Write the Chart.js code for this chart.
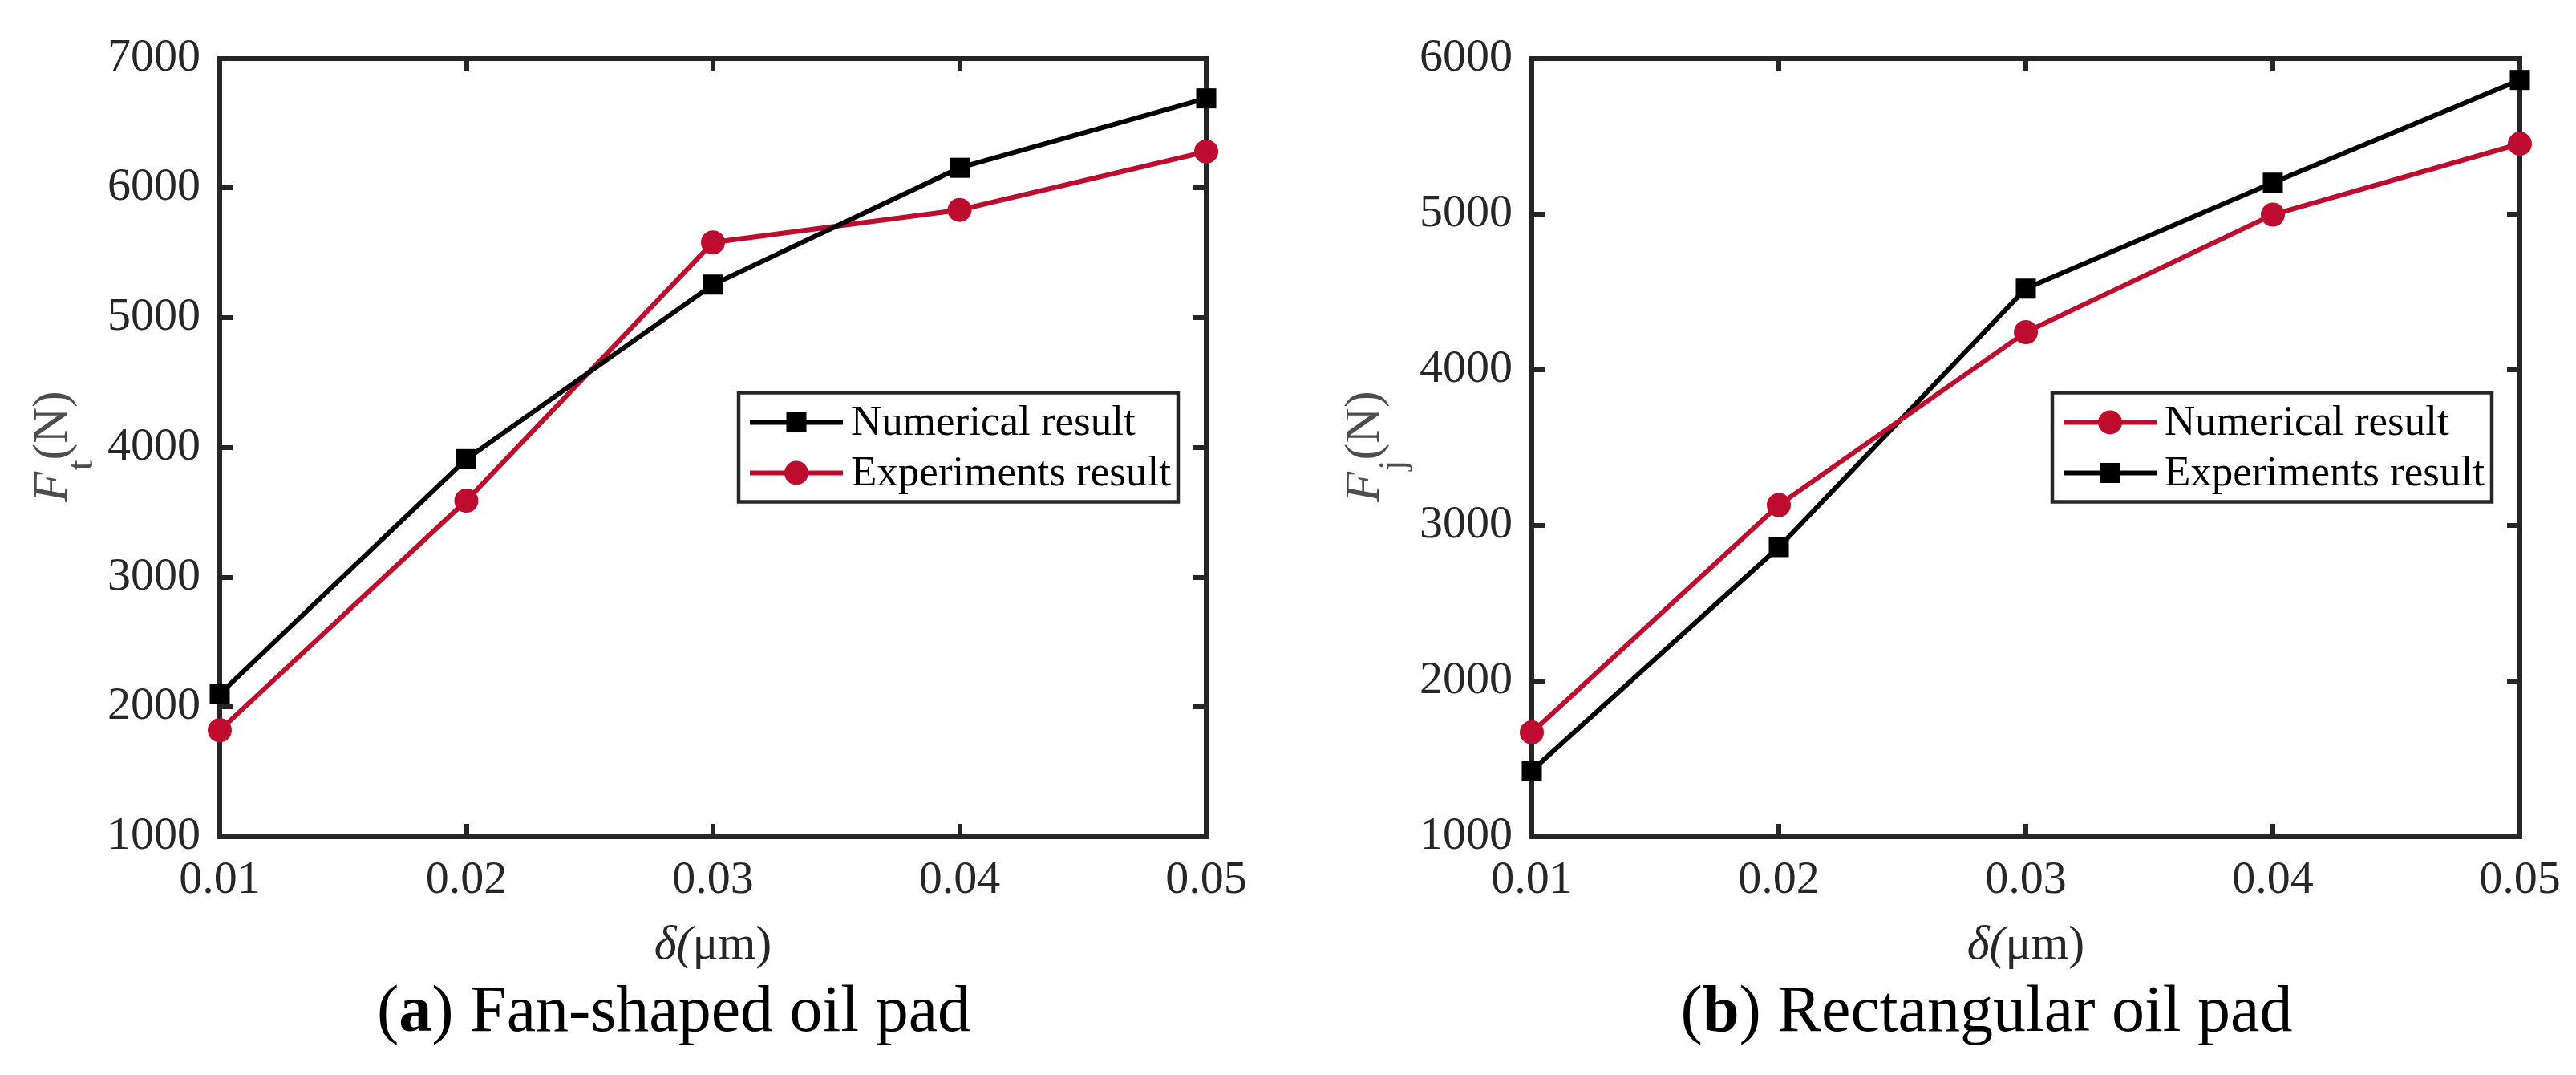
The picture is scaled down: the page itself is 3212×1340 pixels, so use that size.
<!DOCTYPE html>
<html>
<head>
<meta charset="utf-8">
<title>Oil pad force vs film thickness</title>
<script src="https://cdn.jsdelivr.net/npm/chart.js@4.4.0/dist/chart.umd.min.js"></script>
<style>
  html, body { margin: 0; padding: 0; background: #fff; }
  body { width: 3212px; height: 1340px; position: relative; overflow: hidden; font-family: "Liberation Serif", "Times New Roman", serif; }
  canvas { position: absolute; top: 0; }
  .caption { position: absolute; top: 1217px; font-size: 82px; line-height: 82px; color: #000; text-align: center; white-space: nowrap; }
</style>
</head>
<body>
<canvas id="fanChart" width="1600" height="1220" style="left:0"></canvas>
<canvas id="rectChart" width="1576" height="1220" style="left:1636px"></canvas>
<div class="caption" style="left:0;width:1680px">(<b>a</b>) Fan-shaped oil pad</div>
<div class="caption" style="left:1636px;width:1682px">(<b>b</b>) Rectangular oil pad</div>
<script>
// values
const xLabels = ['0.01', '0.02', '0.03', '0.04', '0.05'];

const fanNumerical = [2100, 3910, 5255, 6155, 6690];
const fanExperiments = [1820, 3590, 5580, 5830, 6280];

const rectNumerical = [1670, 3130, 4240, 4995, 5450];
const rectExperiments = [1425, 2860, 4520, 5200, 5860];

const fanYRange = [1000, 7000];
const rectYRange = [1000, 6000];
const yStep = 1000;

const AXIS = '#262626';
const RED = '#BD0C2D';
const BLACK = '#000000';
const FONT = '"Liberation Serif", "Times New Roman", serif';

// draws y title (with subscript), x title and the boxed legend
const panelText = {
    id: 'panelText',
    afterDraw(chart, args, opts) {
        const ctx = chart.ctx;
        const a = chart.chartArea;

        // y title: F_sub(N), rotated
        const fMain = 'italic 62px ' + FONT;
        const fSub = '46px ' + FONT;
        const fNorm = '62px ' + FONT;
        ctx.save();
        ctx.font = fMain; const w1 = ctx.measureText('F').width;
        ctx.font = fSub; const w2 = ctx.measureText(opts.sub).width;
        ctx.font = fNorm; const w3 = ctx.measureText('(N)').width;
        ctx.translate(opts.yTitleX, (a.top + a.bottom) / 2);
        ctx.rotate(-Math.PI / 2);
        ctx.fillStyle = '#4d4d4d';
        ctx.textAlign = 'left';
        ctx.textBaseline = 'alphabetic';
        let x = -(w1 + w2 + w3) / 2;
        ctx.font = fMain; ctx.fillText('F', x, 0); x += w1 + 2;
        ctx.font = fSub; ctx.fillText(opts.sub, x, 32); x += w2;
        ctx.font = fNorm; ctx.fillText('(N)', x, 0);
        ctx.restore();

        // x title: δ(μm)
        ctx.save();
        const xIt = 'italic 60px ' + FONT;
        const xNo = '60px ' + FONT;
        ctx.font = xIt; const d1 = ctx.measureText('δ(').width;
        ctx.font = xNo; const d2 = ctx.measureText('μm)').width;
        let tx = (a.left + a.right) / 2 - (d1 + d2) / 2;
        const ty = a.bottom + 152;
        ctx.fillStyle = AXIS;
        ctx.textBaseline = 'alphabetic';
        ctx.font = xIt; ctx.fillText('δ(', tx, ty); tx += d1;
        ctx.font = xNo; ctx.fillText('μm)', tx, ty);
        ctx.restore();

        // legend box
        const boxW = 548, boxH = 136;
        const bx = a.right - 35 - boxW;
        const by = a.top + 417;
        ctx.save();
        ctx.fillStyle = '#fff';
        ctx.fillRect(bx, by, boxW, boxH);
        ctx.strokeStyle = AXIS;
        ctx.lineWidth = 4.5;
        ctx.strokeRect(bx, by, boxW, boxH);
        chart.data.datasets.forEach((ds, i) => {
            const ry = by + 37 + i * 63;
            ctx.strokeStyle = ds.borderColor;
            ctx.lineWidth = ds.borderWidth;
            ctx.beginPath();
            ctx.moveTo(bx + 14, ry);
            ctx.lineTo(bx + 130, ry);
            ctx.stroke();
            ctx.fillStyle = ds.borderColor;
            const mx = bx + 72;
            if (ds.pointStyle === 'rect') {
                const s = ds.pointRadius * Math.SQRT1_2;
                ctx.fillRect(mx - s, ry - s, 2 * s, 2 * s);
            } else {
                ctx.beginPath();
                ctx.arc(mx, ry, ds.pointRadius, 0, Math.PI * 2);
                ctx.fill();
            }
            ctx.fillStyle = '#000';
            ctx.font = '53px ' + FONT;
            ctx.textBaseline = 'middle';
            ctx.fillText(ds.label, bx + 140, ry + 2);
        });
        ctx.restore();
    }
};

function series(label, values, color, style) {
    return {
        label: label,
        data: values,
        borderColor: color,
        backgroundColor: color,
        borderWidth: 6,
        pointStyle: style,
        pointRadius: style === 'rect' ? 17.7 : 15,
        pointBorderWidth: 0,
        pointBackgroundColor: color,
        tension: 0,
        clip: false
    };
}

function boxAxis(position, extra) {
    return Object.assign({
        position: position,
        border: { display: true, color: AXIS, width: 6 },
        grid: {
            display: true,
            drawOnChartArea: false,
            drawTicks: true,
            tickLength: -16,
            tickWidth: 6,
            tickColor: AXIS,
            lineWidth: 6,
            color: AXIS
        }
    }, extra);
}

function noPad(s) {
    s.paddingLeft = 0; s.paddingRight = 0; s.paddingTop = 0; s.paddingBottom = 0;
}

function makeChart(id, datasets, yRange, sub, rightPad) {
    const tickFont = { family: FONT, size: 58 };
    return new Chart(document.getElementById(id), {
        type: 'line',
        data: { labels: xLabels, datasets: datasets },
        plugins: [panelText],
        options: {
            responsive: false,
            animation: false,
            devicePixelRatio: 1,
            layout: { padding: { left: 0, top: 72.5, right: rightPad, bottom: 77 } },
            plugins: {
                legend: { display: false },
                tooltip: { enabled: false },
                panelText: { sub: sub, yTitleX: 83 }
            },
            scales: {
                x: boxAxis('bottom', {
                    type: 'category',
                    offset: false,
                    ticks: { color: AXIS, font: tickFont, padding: 36, maxRotation: 0, autoSkip: false },
                    afterFit(s) { s.height = 100; noPad(s); }
                }),
                x2: boxAxis('top', {
                    type: 'category',
                    offset: false,
                    ticks: { display: false },
                    afterFit(s) { s.height = 0; noPad(s); }
                }),
                y: boxAxis('left', {
                    type: 'linear',
                    min: yRange[0],
                    max: yRange[1],
                    ticks: { stepSize: yStep, color: AXIS, font: tickFont, padding: 40, callback: v => String(v) },
                    afterFit(s) { s.width = 274; noPad(s); }
                }),
                y2: boxAxis('right', {
                    type: 'linear',
                    min: yRange[0],
                    max: yRange[1],
                    ticks: { display: false, stepSize: yStep },
                    afterFit(s) { s.width = 0; noPad(s); }
                })
            }
        }
    });
}

const charts = [];
charts.push(makeChart('fanChart', [
    series('Numerical result', fanNumerical, BLACK, 'rect'),
    series('Experiments result', fanExperiments, RED, 'circle')
], fanYRange, 't', 96));

charts.push(makeChart('rectChart', [
    series('Numerical result', rectNumerical, RED, 'circle'),
    series('Experiments result', rectExperiments, BLACK, 'rect')
], rectYRange, 'j', 70));

// canvas text may have been drawn before the serif face was ready
Promise.all([
    document.fonts.load('58px "Liberation Serif"'),
    document.fonts.load('italic 58px "Liberation Serif"')
]).then(() => charts.forEach(c => c.update()));
</script>
</body>
</html>
